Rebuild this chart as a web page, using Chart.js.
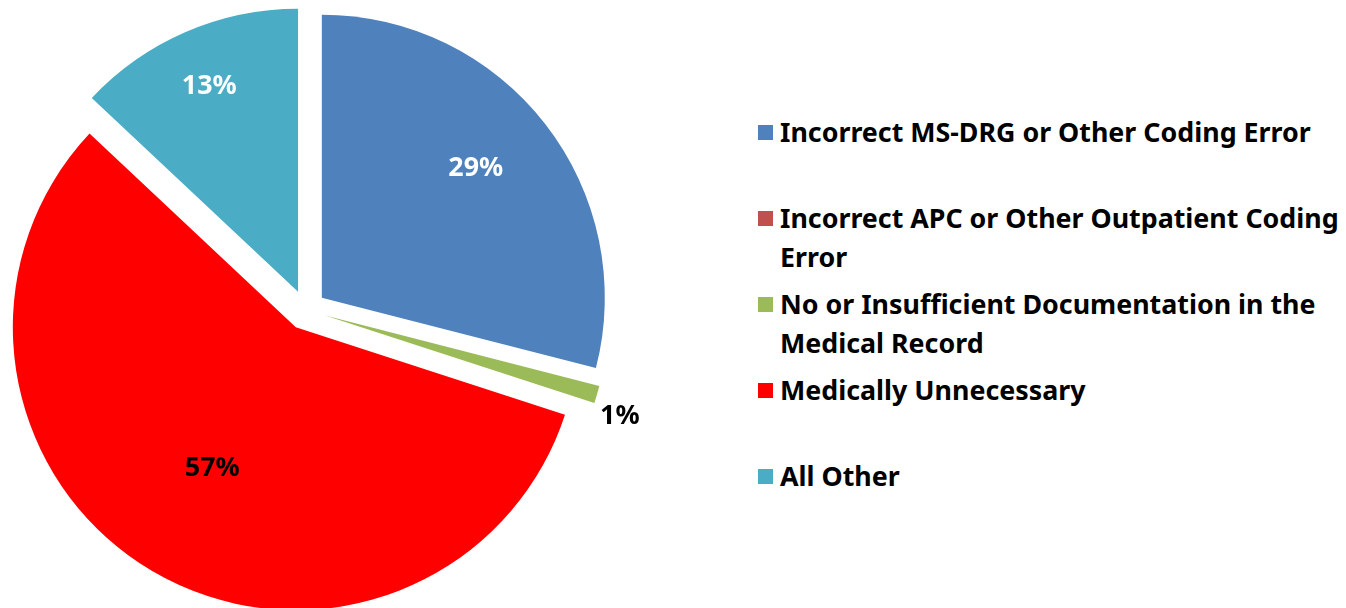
<!DOCTYPE html>
<html>
<head>
<meta charset="utf-8">
<script src="https://cdn.jsdelivr.net/npm/chart.js@4.4.0/dist/chart.umd.min.js"></script>
<style>
  body { margin: 0; background: #fff; width: 1346px; height: 608px; overflow: hidden; position: relative; font-family: "Noto Sans", Lato, sans-serif; }
  #pie { position: absolute; left: 0; top: 0; }
  .legend { position: absolute; left: 758px; top: 112px; margin: 0; padding: 0; list-style: none; }
  .legend li { height: 86px; display: flex; align-items: flex-start; }
  .legend .box { width: 15px; height: 15px; margin-top: 13px; margin-right: 7px; flex: none; }
  .legend .txt { font-weight: bold; font-size: 26.8px; line-height: 39px; color: #000; white-space: nowrap; }
</style>
</head>
<body>
<canvas id="pie" width="700" height="608"></canvas>
<ul class="legend" id="legend"></ul>
<script>
// legend lines, one array per category
const categories = [
  ["Incorrect MS-DRG or Other Coding Error"],
  ["Incorrect APC or Other Outpatient Coding", "Error"],
  ["No or Insufficient Documentation in the", "Medical Record"],
  ["Medically Unnecessary"],
  ["All Other"],
];
const values = [29, 0, 1, 57, 13];
const colors = ["#4F81BD", "#C0504D", "#9BBB59", "#FF0000", "#4BACC6"];
const labelColors = ["#fff", "#000", "#000", "#000", "#fff"];

// label placement: fraction of radius from the slice tip, plus a small angle nudge (deg)
const labelDist = [0.71, 0, 1.1, 0.58, 0.79];
const labelNudge = [-2, 0, 2.5, 0, 0];

const explode = 20;

const explodePlugin = {
  id: "explode",
  beforeDatasetDraw(chart, args) {
    const ctx = chart.ctx;
    args.meta.data.forEach((arc) => {
      const mid = (arc.startAngle + arc.endAngle) / 2;
      ctx.save();
      ctx.translate(Math.cos(mid) * explode, Math.sin(mid) * explode);
      arc.draw(ctx);
      ctx.restore();
    });
    return false;
  },
};

const pctLabels = {
  id: "pctLabels",
  afterDatasetsDraw(chart) {
    const ctx = chart.ctx;
    const meta = chart.getDatasetMeta(0);
    ctx.save();
    ctx.font = "bold 26.8px 'Noto Sans'";
    ctx.textAlign = "center";
    ctx.textBaseline = "middle";
    meta.data.forEach((arc, i) => {
      if (!values[i]) return;
      const mid = (arc.startAngle + arc.endAngle) / 2 + (labelNudge[i] * Math.PI) / 180;
      const d = explode + arc.outerRadius * labelDist[i];
      ctx.fillStyle = labelColors[i];
      ctx.fillText(values[i] + "%", arc.x + Math.cos(mid) * d, arc.y + Math.sin(mid) * d);
    });
    ctx.restore();
  },
};

const ctx = document.getElementById("pie").getContext("2d");
const myChart = new Chart(ctx, {
  type: "pie",
  data: {
    labels: categories.map((c) => c.join(" ")),
    datasets: [
      {
        data: values,
        backgroundColor: colors,
        borderWidth: 0,
        hoverOffset: 0,
      },
    ],
  },
  options: {
    responsive: false,
    animation: false,
    devicePixelRatio: 1,
    radius: 283,
    layout: { padding: { top: 12, right: 88 } },
    events: [],
    plugins: {
      legend: { display: false },
      tooltip: { enabled: false },
    },
  },
  plugins: [explodePlugin, pctLabels],
});

const legendEl = document.getElementById("legend");
categories.forEach((lines, i) => {
  const li = document.createElement("li");
  const box = document.createElement("span");
  box.className = "box";
  box.style.background = colors[i];
  const txt = document.createElement("span");
  txt.className = "txt";
  txt.innerHTML = lines.join("<br>");
  li.appendChild(box);
  li.appendChild(txt);
  legendEl.appendChild(li);
});
</script>
</body>
</html>
